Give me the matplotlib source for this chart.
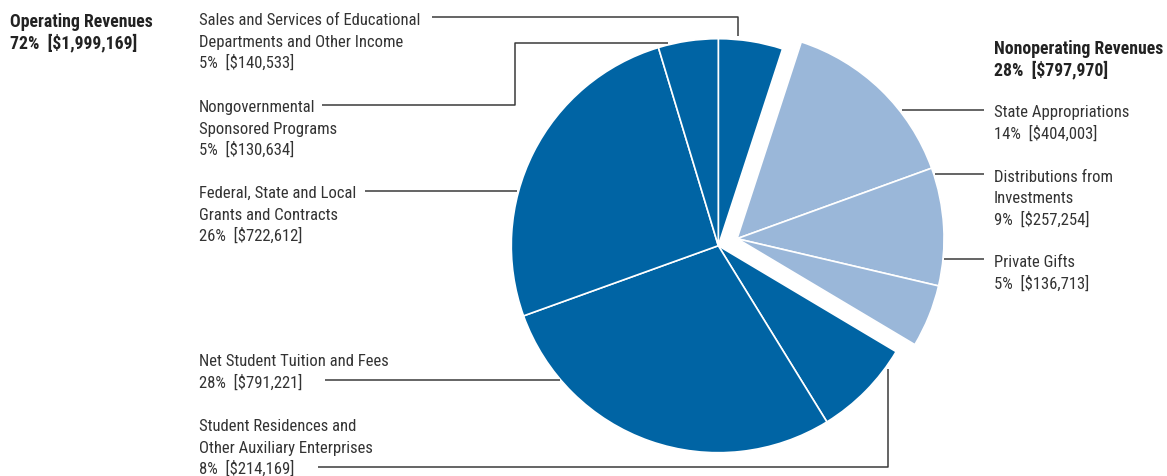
import matplotlib
matplotlib.use("Agg")
import matplotlib.pyplot as plt
from matplotlib import font_manager
import numpy as np

# ---------------- data ----------------
categories = [
    "Sales and Services of Educational\nDepartments and Other Income",
    "State Appropriations",
    "Distributions from\nInvestments",
    "Private Gifts",
    "Student Residences and\nOther Auxiliary Enterprises",
    "Net Student Tuition and Fees",
    "Federal, State and Local\nGrants and Contracts",
    "Nongovernmental\nSponsored Programs",
]
values = [140533, 404003, 257254, 136713, 214169, 791221, 722612, 130634]
percents = [5, 14, 9, 5, 8, 28, 26, 5]
group_of = [0, 1, 1, 1, 0, 0, 0, 0]
group_names = ["Operating Revenues", "Nonoperating Revenues"]
group_totals = [1999169, 797970]
group_percents = [72, 28]

# ---------------- style ----------------
W, H = 1167, 477
DARK = "#0064A4"
LIGHT = "#9AB7D9"
TXT = "#333333"
LINE = "#3a3a3a"

names = {f.name for f in font_manager.fontManager.ttflist}
font_kw = {}
for cand in ["Roboto Condensed", "Liberation Sans Narrow", "Open Sans Condensed"]:
    if cand in names:
        font_kw = {"family": cand}
        break
else:
    font_kw = {"family": "DejaVu Sans", "stretch": "condensed"}

FS = 12.0
FS_BOLD = 12.8

fig = plt.figure(figsize=(W / 100, H / 100), dpi=100)
ax = fig.add_axes([0, 0, 1, 1])

def Y(y):
    return H - y

cx, cy, R = 718.3, Y(246.7), 207

wedges, _ = ax.pie(
    values, startangle=90, counterclock=False, radius=R, center=(cx, cy),
    colors=[DARK if g == 0 else LIGHT for g in group_of],
    wedgeprops=dict(edgecolor="white", linewidth=1.2),
)
# explode the nonoperating group as one block
light = [w for w, g in zip(wedges, group_of) if g == 1]
t1 = min(w.theta1 for w in light)
t2 = max(w.theta2 for w in light)
mid = np.deg2rad((t1 + t2) / 2)
off = 20
for w in light:
    w.set_center((cx + off * np.cos(mid), cy + off * np.sin(mid)))

ax.set_xlim(0, W)
ax.set_ylim(0, H)
ax.set_aspect("auto")
ax.axis("off")

def label_block(x, first_baseline, lines, bold=False, color=TXT, step=21.6):
    for i, s in enumerate(lines):
        ax.text(x, Y(first_baseline + i * step), s,
                fontsize=FS_BOLD if bold else FS, color=color,
                ha="left", va="baseline",
                fontweight="bold" if bold else "normal", **font_kw)

def val_line(i):
    return f"{percents[i]}%  [${values[i]:,}]"

# group headers
label_block(10, 27, [group_names[0], f"{group_percents[0]}%  [${group_totals[0]:,}]"],
            bold=True, color="#222222")
label_block(994, 54, [group_names[1], f"{group_percents[1]}%  [${group_totals[1]:,}]"],
            bold=True, color="#222222")

# category labels: (index, x, first baseline)
placements = [
    (0, 199, 25),
    (7, 199, 112),
    (6, 199, 198),
    (5, 199, 366),
    (4, 199, 431),
    (1, 994, 117.3),
    (2, 994, 181.7),
    (3, 994, 266.7),
]
for i, x, b in placements:
    label_block(x, b, categories[i].split("\n") + [val_line(i)])

# leader lines (pixel coordinates)
leaders = [
    [(432, 18), (738, 18), (738, 37)],
    [(322, 106), (515, 106), (515, 44), (668, 44)],
    [(365, 192), (517, 192)],
    [(325, 381), (560, 381)],
    [(318, 468), (888, 468), (888, 370)],
    [(902, 111), (984, 111)],
    [(935, 175), (984, 175)],
    [(944, 260), (984, 260)],
]
for pts in leaders:
    xs = [p[0] for p in pts]
    ys = [Y(p[1]) for p in pts]
    ax.plot(xs, ys, color=LINE, lw=1.1, solid_capstyle="butt")

fig.savefig("out.png", dpi=100)
